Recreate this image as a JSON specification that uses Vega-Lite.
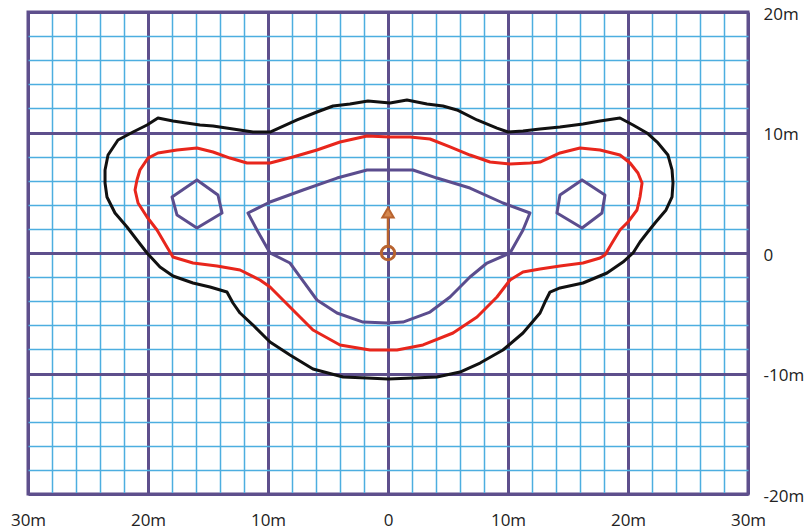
{
  "$schema": "https://vega.github.io/schema/vega-lite/v6.json",
  "width": 720,
  "height": 482,
  "autosize": {"type": "none"},
  "padding": {"left": 28, "top": 12, "right": 61, "bottom": 36},
  "background": "white",
  "config": {"view": {"stroke": "#5e4f8c", "strokeWidth": 3}, "font": "Open Sans"},
  "datasets": {
    "contours": [
      {"path":"black","kind":"black","i":1,"x":-23.58,"y":5.81},
      {"path":"black","kind":"black","i":2,"x":-23.58,"y":6.89},
      {"path":"black","kind":"black","i":3,"x":-23.33,"y":8.13},
      {"path":"black","kind":"black","i":4,"x":-22.5,"y":9.38},
      {"path":"black","kind":"black","i":5,"x":-21.25,"y":10.04},
      {"path":"black","kind":"black","i":6,"x":-20.08,"y":10.62},
      {"path":"black","kind":"black","i":7,"x":-19.17,"y":11.2},
      {"path":"black","kind":"black","i":8,"x":-17.92,"y":10.95},
      {"path":"black","kind":"black","i":9,"x":-15.67,"y":10.62},
      {"path":"black","kind":"black","i":10,"x":-14.58,"y":10.54},
      {"path":"black","kind":"black","i":11,"x":-12.92,"y":10.29},
      {"path":"black","kind":"black","i":12,"x":-11.25,"y":10.04},
      {"path":"black","kind":"black","i":13,"x":-9.83,"y":10.04},
      {"path":"black","kind":"black","i":14,"x":-7.58,"y":11.04},
      {"path":"black","kind":"black","i":15,"x":-5.92,"y":11.7},
      {"path":"black","kind":"black","i":16,"x":-4.58,"y":12.2},
      {"path":"black","kind":"black","i":17,"x":-3.17,"y":12.37},
      {"path":"black","kind":"black","i":18,"x":-1.67,"y":12.61},
      {"path":"black","kind":"black","i":19,"x":0.17,"y":12.45},
      {"path":"black","kind":"black","i":20,"x":1.58,"y":12.7},
      {"path":"black","kind":"black","i":21,"x":3.25,"y":12.37},
      {"path":"black","kind":"black","i":22,"x":4.58,"y":12.2},
      {"path":"black","kind":"black","i":23,"x":5.75,"y":11.87},
      {"path":"black","kind":"black","i":24,"x":7.42,"y":11.04},
      {"path":"black","kind":"black","i":25,"x":9.08,"y":10.37},
      {"path":"black","kind":"black","i":26,"x":10.0,"y":10.04},
      {"path":"black","kind":"black","i":27,"x":11.25,"y":10.12},
      {"path":"black","kind":"black","i":28,"x":12.67,"y":10.29},
      {"path":"black","kind":"black","i":29,"x":14.33,"y":10.46},
      {"path":"black","kind":"black","i":30,"x":16.25,"y":10.71},
      {"path":"black","kind":"black","i":31,"x":17.67,"y":10.95},
      {"path":"black","kind":"black","i":32,"x":19.33,"y":11.2},
      {"path":"black","kind":"black","i":33,"x":20.42,"y":10.62},
      {"path":"black","kind":"black","i":34,"x":21.58,"y":9.96},
      {"path":"black","kind":"black","i":35,"x":22.5,"y":9.13},
      {"path":"black","kind":"black","i":36,"x":23.33,"y":8.13},
      {"path":"black","kind":"black","i":37,"x":23.67,"y":6.89},
      {"path":"black","kind":"black","i":38,"x":23.75,"y":5.81},
      {"path":"black","kind":"black","i":39,"x":23.67,"y":4.65},
      {"path":"black","kind":"black","i":40,"x":23.17,"y":3.57},
      {"path":"black","kind":"black","i":41,"x":22.25,"y":2.49},
      {"path":"black","kind":"black","i":42,"x":21.58,"y":1.66},
      {"path":"black","kind":"black","i":43,"x":21.0,"y":0.91},
      {"path":"black","kind":"black","i":44,"x":20.42,"y":0.0},
      {"path":"black","kind":"black","i":45,"x":19.58,"y":-0.75},
      {"path":"black","kind":"black","i":46,"x":18.25,"y":-1.66},
      {"path":"black","kind":"black","i":47,"x":16.25,"y":-2.49},
      {"path":"black","kind":"black","i":48,"x":14.33,"y":-2.9},
      {"path":"black","kind":"black","i":49,"x":13.5,"y":-3.24},
      {"path":"black","kind":"black","i":50,"x":13.08,"y":-4.07},
      {"path":"black","kind":"black","i":51,"x":12.67,"y":-4.98},
      {"path":"black","kind":"black","i":52,"x":11.25,"y":-6.64},
      {"path":"black","kind":"black","i":53,"x":9.58,"y":-8.05},
      {"path":"black","kind":"black","i":54,"x":7.67,"y":-9.13},
      {"path":"black","kind":"black","i":55,"x":6.0,"y":-9.88},
      {"path":"black","kind":"black","i":56,"x":4.08,"y":-10.29},
      {"path":"black","kind":"black","i":57,"x":2.08,"y":-10.37},
      {"path":"black","kind":"black","i":58,"x":0.0,"y":-10.46},
      {"path":"black","kind":"black","i":59,"x":-1.75,"y":-10.37},
      {"path":"black","kind":"black","i":60,"x":-3.75,"y":-10.29},
      {"path":"black","kind":"black","i":61,"x":-6.25,"y":-9.63},
      {"path":"black","kind":"black","i":62,"x":-8.17,"y":-8.46},
      {"path":"black","kind":"black","i":63,"x":-9.83,"y":-7.39},
      {"path":"black","kind":"black","i":64,"x":-11.25,"y":-5.98},
      {"path":"black","kind":"black","i":65,"x":-12.33,"y":-4.98},
      {"path":"black","kind":"black","i":66,"x":-12.92,"y":-4.15},
      {"path":"black","kind":"black","i":67,"x":-13.42,"y":-3.24},
      {"path":"black","kind":"black","i":68,"x":-14.83,"y":-2.82},
      {"path":"black","kind":"black","i":69,"x":-16.25,"y":-2.49},
      {"path":"black","kind":"black","i":70,"x":-17.92,"y":-1.91},
      {"path":"black","kind":"black","i":71,"x":-19.0,"y":-1.16},
      {"path":"black","kind":"black","i":72,"x":-20.08,"y":0.0},
      {"path":"black","kind":"black","i":73,"x":-20.92,"y":1.08},
      {"path":"black","kind":"black","i":74,"x":-21.75,"y":2.16},
      {"path":"black","kind":"black","i":75,"x":-22.75,"y":3.32},
      {"path":"black","kind":"black","i":76,"x":-23.42,"y":4.65},
      {"path":"black","kind":"black","i":77,"x":-23.58,"y":5.81},

      {"path":"red","kind":"red","i":1,"x":-21.08,"y":5.23},
      {"path":"red","kind":"red","i":2,"x":-20.92,"y":6.06},
      {"path":"red","kind":"red","i":3,"x":-20.67,"y":6.89},
      {"path":"red","kind":"red","i":4,"x":-20.0,"y":7.88},
      {"path":"red","kind":"red","i":5,"x":-19.17,"y":8.3},
      {"path":"red","kind":"red","i":6,"x":-17.58,"y":8.55},
      {"path":"red","kind":"red","i":7,"x":-15.92,"y":8.71},
      {"path":"red","kind":"red","i":8,"x":-14.58,"y":8.38},
      {"path":"red","kind":"red","i":9,"x":-13.17,"y":7.88},
      {"path":"red","kind":"red","i":10,"x":-11.75,"y":7.47},
      {"path":"red","kind":"red","i":11,"x":-9.83,"y":7.47},
      {"path":"red","kind":"red","i":12,"x":-7.92,"y":7.97},
      {"path":"red","kind":"red","i":13,"x":-5.92,"y":8.55},
      {"path":"red","kind":"red","i":14,"x":-4.0,"y":9.21},
      {"path":"red","kind":"red","i":15,"x":-1.75,"y":9.71},
      {"path":"red","kind":"red","i":16,"x":0.17,"y":9.63},
      {"path":"red","kind":"red","i":17,"x":1.83,"y":9.63},
      {"path":"red","kind":"red","i":18,"x":3.5,"y":9.46},
      {"path":"red","kind":"red","i":19,"x":5.17,"y":8.8},
      {"path":"red","kind":"red","i":20,"x":6.83,"y":8.13},
      {"path":"red","kind":"red","i":21,"x":8.5,"y":7.55},
      {"path":"red","kind":"red","i":22,"x":10.17,"y":7.39},
      {"path":"red","kind":"red","i":23,"x":11.83,"y":7.47},
      {"path":"red","kind":"red","i":24,"x":12.67,"y":7.55},
      {"path":"red","kind":"red","i":25,"x":14.33,"y":8.3},
      {"path":"red","kind":"red","i":26,"x":16.0,"y":8.71},
      {"path":"red","kind":"red","i":27,"x":17.67,"y":8.55},
      {"path":"red","kind":"red","i":28,"x":19.33,"y":8.13},
      {"path":"red","kind":"red","i":29,"x":20.17,"y":7.47},
      {"path":"red","kind":"red","i":30,"x":20.83,"y":6.64},
      {"path":"red","kind":"red","i":31,"x":21.17,"y":5.81},
      {"path":"red","kind":"red","i":32,"x":21.0,"y":4.65},
      {"path":"red","kind":"red","i":33,"x":20.75,"y":3.57},
      {"path":"red","kind":"red","i":34,"x":20.0,"y":2.57},
      {"path":"red","kind":"red","i":35,"x":19.33,"y":1.91},
      {"path":"red","kind":"red","i":36,"x":18.67,"y":0.83},
      {"path":"red","kind":"red","i":37,"x":18.08,"y":-0.17},
      {"path":"red","kind":"red","i":38,"x":17.67,"y":-0.41},
      {"path":"red","kind":"red","i":39,"x":16.25,"y":-0.83},
      {"path":"red","kind":"red","i":40,"x":14.33,"y":-1.08},
      {"path":"red","kind":"red","i":41,"x":12.67,"y":-1.33},
      {"path":"red","kind":"red","i":42,"x":11.25,"y":-1.58},
      {"path":"red","kind":"red","i":43,"x":10.17,"y":-2.24},
      {"path":"red","kind":"red","i":44,"x":9.08,"y":-3.65},
      {"path":"red","kind":"red","i":45,"x":7.42,"y":-5.31},
      {"path":"red","kind":"red","i":46,"x":5.42,"y":-6.64},
      {"path":"red","kind":"red","i":47,"x":2.92,"y":-7.63},
      {"path":"red","kind":"red","i":48,"x":0.75,"y":-8.05},
      {"path":"red","kind":"red","i":49,"x":-1.5,"y":-8.05},
      {"path":"red","kind":"red","i":50,"x":-4.0,"y":-7.63},
      {"path":"red","kind":"red","i":51,"x":-6.25,"y":-6.39},
      {"path":"red","kind":"red","i":52,"x":-7.92,"y":-4.73},
      {"path":"red","kind":"red","i":53,"x":-9.0,"y":-3.65},
      {"path":"red","kind":"red","i":54,"x":-9.83,"y":-2.82},
      {"path":"red","kind":"red","i":55,"x":-10.67,"y":-2.24},
      {"path":"red","kind":"red","i":56,"x":-12.33,"y":-1.41},
      {"path":"red","kind":"red","i":57,"x":-14.25,"y":-1.08},
      {"path":"red","kind":"red","i":58,"x":-16.25,"y":-0.83},
      {"path":"red","kind":"red","i":59,"x":-17.92,"y":-0.33},
      {"path":"red","kind":"red","i":60,"x":-18.42,"y":0.5},
      {"path":"red","kind":"red","i":61,"x":-19.25,"y":1.91},
      {"path":"red","kind":"red","i":62,"x":-20.08,"y":2.99},
      {"path":"red","kind":"red","i":63,"x":-20.83,"y":4.15},
      {"path":"red","kind":"red","i":64,"x":-21.08,"y":5.23},

      {"path":"inner","kind":"purple","i":1,"x":-11.67,"y":3.32},
      {"path":"inner","kind":"purple","i":2,"x":-9.83,"y":4.23},
      {"path":"inner","kind":"purple","i":3,"x":-7.08,"y":5.23},
      {"path":"inner","kind":"purple","i":4,"x":-4.25,"y":6.22},
      {"path":"inner","kind":"purple","i":5,"x":-1.75,"y":6.89},
      {"path":"inner","kind":"purple","i":6,"x":2.08,"y":6.89},
      {"path":"inner","kind":"purple","i":7,"x":4.08,"y":6.22},
      {"path":"inner","kind":"purple","i":8,"x":6.83,"y":5.39},
      {"path":"inner","kind":"purple","i":9,"x":9.58,"y":4.15},
      {"path":"inner","kind":"purple","i":10,"x":11.83,"y":3.32},
      {"path":"inner","kind":"purple","i":11,"x":11.25,"y":1.91},
      {"path":"inner","kind":"purple","i":12,"x":10.17,"y":0.0},
      {"path":"inner","kind":"purple","i":13,"x":8.25,"y":-0.83},
      {"path":"inner","kind":"purple","i":14,"x":6.83,"y":-1.99},
      {"path":"inner","kind":"purple","i":15,"x":5.17,"y":-3.65},
      {"path":"inner","kind":"purple","i":16,"x":3.5,"y":-4.9},
      {"path":"inner","kind":"purple","i":17,"x":1.25,"y":-5.73},
      {"path":"inner","kind":"purple","i":18,"x":-0.08,"y":-5.81},
      {"path":"inner","kind":"purple","i":19,"x":-2.08,"y":-5.73},
      {"path":"inner","kind":"purple","i":20,"x":-4.25,"y":-4.98},
      {"path":"inner","kind":"purple","i":21,"x":-5.92,"y":-3.9},
      {"path":"inner","kind":"purple","i":22,"x":-7.33,"y":-1.99},
      {"path":"inner","kind":"purple","i":23,"x":-8.17,"y":-0.83},
      {"path":"inner","kind":"purple","i":24,"x":-9.83,"y":0.0},
      {"path":"inner","kind":"purple","i":25,"x":-10.92,"y":1.91},
      {"path":"inner","kind":"purple","i":26,"x":-11.67,"y":3.32},

      {"path":"hexL","kind":"purple","i":1,"x":-15.92,"y":6.06},
      {"path":"hexL","kind":"purple","i":2,"x":-14.17,"y":4.81},
      {"path":"hexL","kind":"purple","i":3,"x":-13.83,"y":3.32},
      {"path":"hexL","kind":"purple","i":4,"x":-15.92,"y":2.07},
      {"path":"hexL","kind":"purple","i":5,"x":-17.58,"y":3.15},
      {"path":"hexL","kind":"purple","i":6,"x":-18.0,"y":4.65},
      {"path":"hexL","kind":"purple","i":7,"x":-15.92,"y":6.06},

      {"path":"hexR","kind":"purple","i":1,"x":16.17,"y":6.06},
      {"path":"hexR","kind":"purple","i":2,"x":18.08,"y":4.81},
      {"path":"hexR","kind":"purple","i":3,"x":17.83,"y":3.32},
      {"path":"hexR","kind":"purple","i":4,"x":16.17,"y":2.07},
      {"path":"hexR","kind":"purple","i":5,"x":14.08,"y":3.32},
      {"path":"hexR","kind":"purple","i":6,"x":14.33,"y":4.81},
      {"path":"hexR","kind":"purple","i":7,"x":16.17,"y":6.06}
    ],
    "stem": [{"x": 0, "y": 0.6, "y2": 2.9}],
    "origin": [{"x": 0, "y": 0}],
    "head": [{"x": 0, "y": 3.35}]
  },
  "layer": [
    {
      "data": {"name": "contours"},
      "mark": {"type": "line", "strokeWidth": 3, "strokeJoin": "round", "strokeCap": "round"},
      "encoding": {
        "x": {
          "field": "x", "type": "quantitative",
          "scale": {"domain": [-30, 30], "nice": false, "zero": false},
          "axis": {
            "orient": "bottom", "title": null, "domain": false, "ticks": false,
            "values": [-30,-28,-26,-24,-22,-20,-18,-16,-14,-12,-10,-8,-6,-4,-2,0,2,4,6,8,10,12,14,16,18,20,22,24,26,28,30],
            "tickCount": 100,
            "labelExpr": "datum.value % 10 === 0 ? (datum.value === 0 ? '0' : abs(datum.value) + 'm') : ''",
            "labelFont": "Open Sans", "labelFontSize": 17, "labelColor": "#222222",
            "labelPadding": 18, "labelOverlap": false, "labelFlush": false, "labelBound": false,
            "grid": true,
            "gridColor": {"condition": {"test": "datum.value % 10 === 0", "value": "#5e4f8c"}, "value": "#4daee0"},
            "gridWidth": {"condition": {"test": "datum.value % 10 === 0", "value": 3}, "value": 1.5},
            "gridOpacity": 1
          }
        },
        "y": {
          "field": "y", "type": "quantitative",
          "scale": {"domain": [-20, 20], "nice": false, "zero": false},
          "axis": {
            "orient": "right", "title": null, "domain": false, "ticks": false,
            "values": [-20,-18,-16,-14,-12,-10,-8,-6,-4,-2,0,2,4,6,8,10,12,14,16,18,20],
            "tickCount": 100,
            "labelExpr": "datum.value % 10 === 0 ? (datum.value === 0 ? '0' : datum.value + 'm') : ''",
            "labelFont": "Open Sans", "labelFontSize": 17, "labelColor": "#222222",
            "labelPadding": 15, "labelOffset": 2, "labelOverlap": false, "labelFlush": false, "labelBound": false,
            "grid": true,
            "gridColor": {"condition": {"test": "datum.value % 10 === 0", "value": "#5e4f8c"}, "value": "#4daee0"},
            "gridWidth": {"condition": {"test": "datum.value % 10 === 0", "value": 3}, "value": 1.5},
            "gridOpacity": 1
          }
        },
        "detail": {"field": "path", "type": "nominal"},
        "order": {"field": "i", "type": "quantitative"},
        "color": {
          "field": "kind", "type": "nominal",
          "scale": {"domain": ["black", "red", "purple"], "range": ["#111111", "#e8261c", "#5b4d8e"]},
          "legend": null
        }
      }
    },
    {
      "data": {"name": "stem"},
      "mark": {"type": "rule", "color": "#b8632f", "strokeWidth": 2.5},
      "encoding": {
        "x": {"field": "x", "type": "quantitative"},
        "y": {"field": "y", "type": "quantitative"},
        "y2": {"field": "y2"}
      }
    },
    {
      "data": {"name": "origin"},
      "mark": {"type": "point", "shape": "circle", "size": 180, "filled": false, "stroke": "#b8632f", "strokeWidth": 3, "opacity": 1},
      "encoding": {
        "x": {"field": "x", "type": "quantitative"},
        "y": {"field": "y", "type": "quantitative"}
      }
    },
    {
      "data": {"name": "head"},
      "mark": {"type": "point", "shape": "triangle-up", "size": 130, "filled": true, "fill": "#d4874f", "stroke": "#b8632f", "strokeWidth": 2, "opacity": 1},
      "encoding": {
        "x": {"field": "x", "type": "quantitative"},
        "y": {"field": "y", "type": "quantitative"}
      }
    }
  ]
}
